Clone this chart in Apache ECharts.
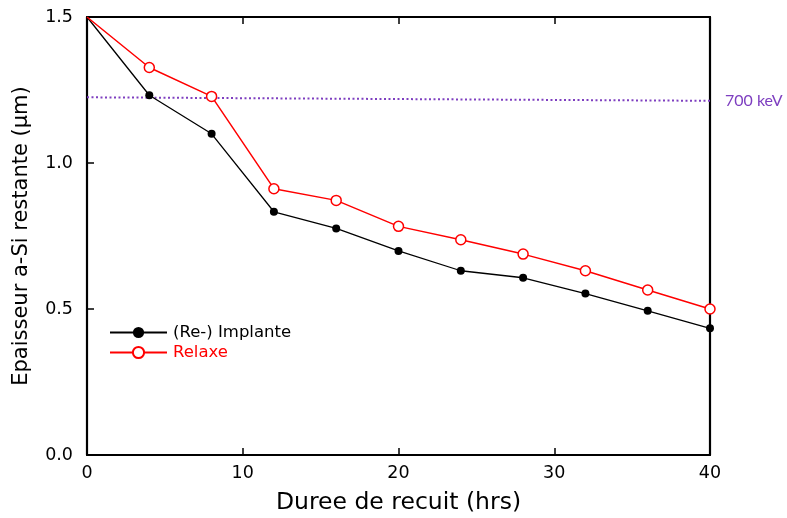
<!DOCTYPE html>
<html><head><meta charset="utf-8">
<script src="https://cdn.jsdelivr.net/npm/echarts@6/dist/echarts.min.js"></script>
<style>html,body{margin:0;padding:0;background:#fff}#c{width:787px;height:518px}</style>
</head><body><div id="c"></div>
<script>
const hours = [0, 4, 8, 12, 16, 20, 24, 28, 32, 36, 40];
const implante = [1.5, 1.232, 1.100, 0.833, 0.776, 0.699, 0.631, 0.607, 0.553, 0.494, 0.434];
const relaxe = [1.5, 1.327, 1.228, 0.912, 0.872, 0.783, 0.737, 0.688, 0.631, 0.565, 0.500];
const refX = [0, 40];
const refY = [1.225, 1.213];
const refLabel = '700 keV';
const seriesNames = ['(Re-) Implante', 'Relaxe'];
const xName = 'Duree de recuit (hrs)';
const yName = 'Epaisseur a-Si restante (µm)';

const font = 'DejaVu Sans, sans-serif';
const chart = echarts.init(document.getElementById('c'), null, {renderer: 'canvas'});
const pair = (xs, ys) => xs.map((x, i) => [x, ys[i]]);
const axisLine = {show: true, onZero: false, lineStyle: {color: '#000', width: 2.2}};
const tick = {show: true, inside: true, length: 7, lineStyle: {color: '#000', width: 1.5}};
const sym = (v, p) => (p.dataIndex === 0 ? 'none' : 'circle');
chart.setOption({
  animation: false,
  grid: {left: 87, right: 77, top: 17, bottom: 63, containLabel: false, outerBoundsMode: 'none'},
  legend: {
    left: 104, top: 319, orient: 'vertical', itemGap: 3, itemWidth: 57, itemHeight: 14,
    textStyle: {fontFamily: font, fontSize: 16.5, lineHeight: 14, padding: [0, 0, 0, 1]},
    data: [
      {name: seriesNames[0], textStyle: {color: '#000'}},
      {name: seriesNames[1], textStyle: {color: '#ff0000'}}
    ]
  },
  xAxis: [{
    type: 'value', min: 0, max: 40, interval: 10, position: 'bottom',
    name: xName, nameLocation: 'middle', nameGap: 36,
    nameTextStyle: {fontFamily: font, fontSize: 23.5, color: '#000'},
    axisLine: axisLine, axisTick: tick,
    axisLabel: {fontFamily: font, fontSize: 17.5, color: '#000', margin: 9},
    splitLine: {show: false}
  }, {
    type: 'value', min: 0, max: 40, interval: 10, position: 'top',
    axisLine: axisLine, axisTick: tick,
    axisLabel: {show: false}, splitLine: {show: false}
  }],
  yAxis: [{
    type: 'value', min: 0, max: 1.5, interval: 0.5, position: 'left',
    name: yName, nameLocation: 'middle', nameGap: 55,
    nameTextStyle: {fontFamily: font, fontSize: 21, color: '#000'},
    axisLine: axisLine, axisTick: tick,
    axisLabel: {fontFamily: font, fontSize: 17.5, color: '#000', margin: 14, formatter: v => v.toFixed(1)},
    splitLine: {show: false}
  }, {
    type: 'value', min: 0, max: 1.5, interval: 0.5, position: 'right',
    axisLine: axisLine, axisTick: {show: false}, axisLabel: {show: false}, splitLine: {show: false}
  }],
  series: [{
    name: '700keV', type: 'line', data: pair(refX, refY), symbol: 'none', silent: true,
    lineStyle: {color: '#7e3fc0', width: 2, type: [2, 2.5]},
    endLabel: {show: true, formatter: refLabel, color: '#7e3fc0', fontFamily: 'Lato, sans-serif', fontSize: 16, distance: 15}
  }, {
    name: seriesNames[0], type: 'line', data: pair(hours, implante),
    symbol: sym, symbolSize: 8, color: '#000',
    itemStyle: {color: '#000'}, lineStyle: {color: '#000', width: 1.3}
  }, {
    name: seriesNames[1], type: 'line', data: pair(hours, relaxe),
    symbol: sym, symbolSize: 10, color: '#ff0000',
    itemStyle: {color: '#fff', borderColor: '#ff0000', borderWidth: 1.5},
    lineStyle: {color: '#ff0000', width: 1.5}
  }]
});
</script></body></html>
